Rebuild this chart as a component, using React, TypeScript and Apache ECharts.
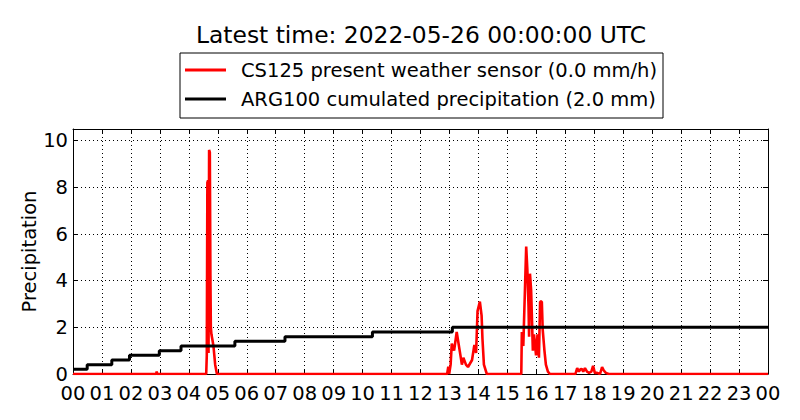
import React, { useEffect, useRef } from "react";
import * as echarts from "echarts";

const titleText = "Latest time: 2022-05-26 00:00:00 UTC";
const csName = "CS125 present weather sensor (0.0 mm/h)";
const argName = "ARG100 cumulated precipitation (2.0 mm)";

// CS125 precipitation rate (hour of day, mm/h)
const csHours = [
  0, 2.87, 2.89, 2.91,
  4.6, 4.62, 4.64, 4.665, 4.68, 4.7, 4.725, 4.745, 4.76, 4.78, 4.81, 4.85, 4.91, 4.97,
  12.92, 12.96, 12.99, 13.04, 13.08, 13.16, 13.25, 13.36, 13.43, 13.48, 13.57, 13.64, 13.71, 13.78,
  13.86, 13.92, 13.97, 14.05, 14.11, 14.14, 14.19, 14.29,
  15.48, 15.5, 15.55, 15.65, 15.69, 15.73, 15.75, 15.78, 15.82, 15.85, 15.88, 15.92, 15.95, 15.99,
  16.04, 16.09, 16.13, 16.19, 16.22, 16.28, 16.33, 16.4, 16.47,
  17.35, 17.41, 17.47, 17.52, 17.57, 17.62, 17.68, 17.75, 17.82, 17.9, 17.96, 18.02, 18.1, 18.2,
  18.27, 18.33, 18.4, 18.5, 24,
];
const csRates = [
  0, 0, 0.1, 0,
  0, 0.8, 8.2, 8.3, 0.9, 9.6, 9.5, 4.2, 2.0, 1.7, 1.5, 1.2, 0.4, 0,
  0, 0.31, 0, 0.4, 1.3, 1.0, 1.8, 0.95, 0.4, 0.7, 0.4, 0.3, 0.45, 0.6,
  1.25, 0.9, 2.7, 3.1, 2.5, 1.5, 0.4, 0,
  0, 1.8, 1.2, 5.46, 4.46, 2.9, 1.6, 4.3, 3.6, 2.3, 1.0, 1.7, 1.3, 0.8,
  1.7, 0.7, 3.1, 3.1, 1.9, 1.0, 0.4, 0.1, 0,
  0, 0.25, 0.1, 0.2, 0.22, 0.1, 0.25, 0.1, 0.05, 0.1, 0.35, 0.05, 0.05, 0,
  0.3, 0.15, 0.05, 0, 0,
];

// ARG100 cumulated precipitation (hour of day, mm)
const argHours = [0, 0.49, 1.34, 1.95, 2.98, 3.73, 5.59, 7.32, 10.34, 13.1, 24];
const argTotals = [0.2, 0.4, 0.6, 0.8, 1.0, 1.2, 1.4, 1.6, 1.8, 2.0, 2.0];

const yTicks = [0, 2, 4, 6, 8, 10];

const FONT = "DejaVu Sans";

export default function App() {
  const ref = useRef<HTMLDivElement>(null);
  useEffect(() => {
    if (!ref.current) return;
    const chart = echarts.init(ref.current, undefined, { renderer: "svg" });
    const csData = csHours.map((h, i) => [h, csRates[i]]);
    const argData = argHours.map((h, i) => [h, argTotals[i]]);
    const tickCommon = { show: true, inside: true, length: 5, lineStyle: { color: "#000", width: 1 } };
    const lineCommon = { show: true, onZero: false, lineStyle: { color: "#000", width: 1 } };
    chart.setOption({
      animation: false,
      backgroundColor: "#fff",
      textStyle: { fontFamily: FONT },
      title: {
        text: titleText,
        left: 416,
        textAlign: "center",
        top: 18,
        textStyle: { fontFamily: FONT, fontSize: 23.4, fontWeight: "normal", color: "#000" },
      },
      legend: {
        orient: "vertical",
        left: 180,
        top: 53,
        borderColor: "#000",
        borderWidth: 1,
        borderRadius: 0,
        padding: [7, 6, 9, 5],
        itemWidth: 41,
        itemHeight: 3,
        itemGap: 9,
        textStyle: { fontFamily: FONT, fontSize: 19.5, color: "#000", padding: [0, 0, 0, 10] },
        data: [
          { name: csName, icon: "rect", itemStyle: { color: "#ff0000" } },
          { name: argName, icon: "rect", itemStyle: { color: "#000000" } },
        ],
      },
      grid: { left: 73, right: 32, top: 129, bottom: 46, containLabel: false },
      xAxis: [
        {
          type: "value",
          min: 0,
          max: 24,
          interval: 1,
          position: "bottom",
          axisLine: lineCommon,
          axisTick: tickCommon,
          axisLabel: {
            margin: 9,
            fontFamily: FONT,
            fontSize: 19.5,
            color: "#000",
            formatter: (v: number) => String(Math.round(v) % 24).padStart(2, "0"),
          },
          splitLine: { show: true, lineStyle: { color: "#000", width: 1, type: [1, 3] } },
        },
        {
          type: "value",
          min: 0,
          max: 24,
          interval: 1,
          position: "top",
          axisLine: lineCommon,
          axisTick: tickCommon,
          axisLabel: { show: false },
          splitLine: { show: false },
        },
      ],
      yAxis: [
        {
          type: "value",
          min: 0,
          max: 10.5,
          interval: 2,
          position: "left",
          name: "Precipitation",
          nameLocation: "middle",
          nameGap: 34,
          nameRotate: 90,
          nameMoveOverlap: false,
          nameTextStyle: { fontFamily: FONT, fontSize: 19.5, color: "#000" },
          axisLine: lineCommon,
          axisTick: tickCommon,
          axisLabel: {
            margin: 5,
            fontFamily: FONT,
            fontSize: 19.5,
            color: "#000",
            formatter: (v: number) => (yTicks.includes(v) ? String(v) : ""),
          },
          splitLine: { show: true, lineStyle: { color: "#000", width: 1, type: [1, 3] } },
        },
        {
          type: "value",
          min: 0,
          max: 10.5,
          interval: 2,
          position: "right",
          axisLine: lineCommon,
          axisTick: tickCommon,
          axisLabel: { show: false },
          splitLine: { show: false },
        },
      ],
      series: [
        {
          name: csName,
          type: "line",
          data: csData,
          showSymbol: false,
          symbol: "none",
          lineStyle: { color: "#ff0000", width: 2.6 },
          itemStyle: { color: "#ff0000" },
        },
        {
          name: argName,
          type: "line",
          step: "end",
          data: argData,
          showSymbol: false,
          symbol: "none",
          lineStyle: { color: "#000000", width: 3 },
          itemStyle: { color: "#000000" },
        },
      ],
    });
    return () => chart.dispose();
  }, []);
  return (
    <div
      ref={ref}
      style={{ position: "fixed", left: 0, top: 0, width: 800, height: 420, background: "#fff" }}
    />
  );
}
